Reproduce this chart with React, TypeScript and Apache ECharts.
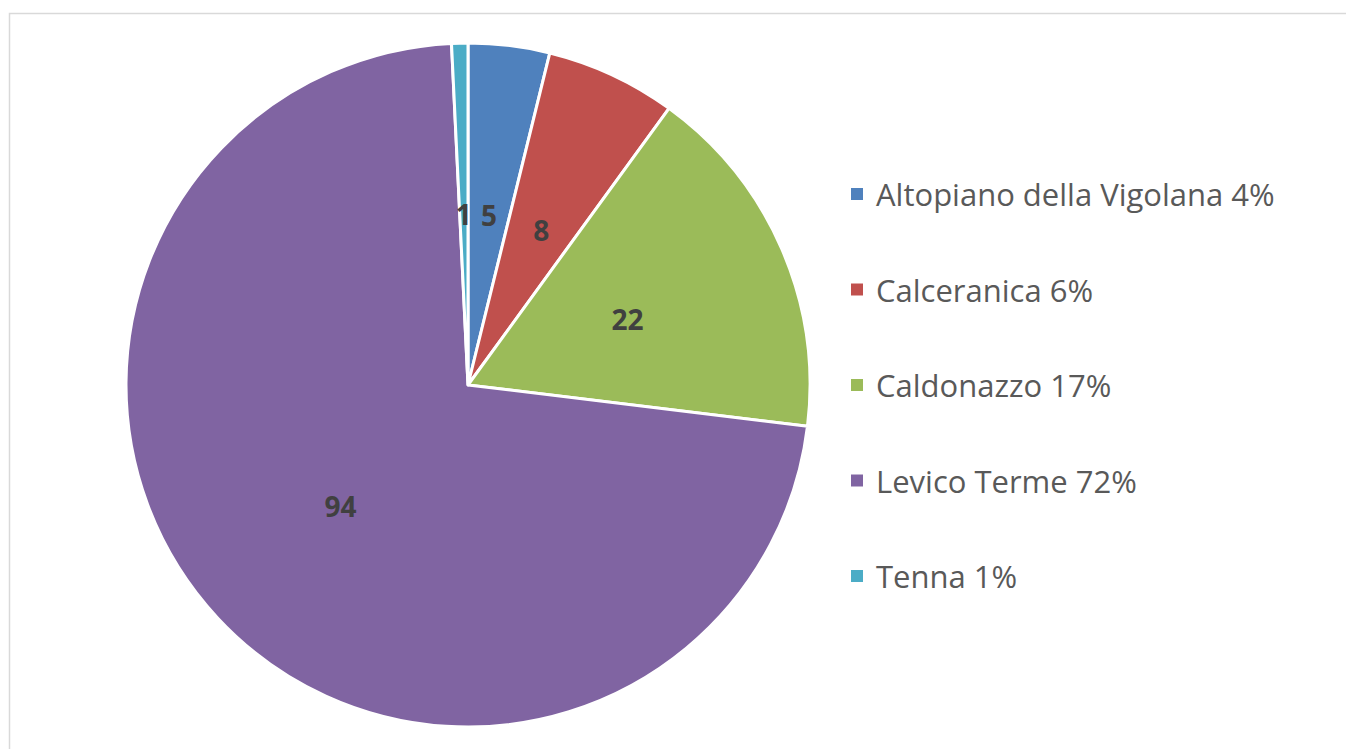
import React, { useEffect, useRef } from "react";
import * as echarts from "echarts";

const categories = ["Altopiano della Vigolana", "Calceranica", "Caldonazzo", "Levico Terme", "Tenna"];
const values = [5, 8, 22, 94, 1];
const colors = ["#4F81BD", "#C0504D", "#9BBB59", "#8064A2", "#4BACC6"];

export default function App() {
  const ref = useRef<HTMLDivElement>(null);
  useEffect(() => {
    if (!ref.current) return;
    const chart = echarts.init(ref.current, undefined, { renderer: "svg" });
    const total = values.reduce((a, b) => a + b, 0);
    const pct: Record<string, number> = {};
    categories.forEach((c, i) => (pct[c] = Math.round((values[i] / total) * 100)));
    chart.setOption({
      animation: false,
      backgroundColor: "#ffffff",
      color: colors,
      graphic: [
        {
          type: "rect",
          shape: { x: 9.5, y: 13.5, width: 1400, height: 800 },
          style: { fill: "none", stroke: "#d9d9d9", lineWidth: 1.5 },
          silent: true,
        },
      ],
      legend: {
        orient: "vertical",
        left: 849,
        top: 176,
        icon: "rect",
        itemWidth: 14,
        itemHeight: 14,
        itemGap: 59.5,
        padding: 0,
        formatter: (name: string) => `${name} ${pct[name]}%`,
        textStyle: {
          fontFamily: "Open Sans",
          fontSize: 31,
          lineHeight: 36,
          color: "#595959",
          padding: [0, 0, 0, 7],
        },
        data: categories,
      },
      series: [
        {
          type: "pie",
          center: [468, 385],
          radius: [0, 342],
          startAngle: 90,
          clockwise: true,
          avoidLabelOverlap: false,
          itemStyle: { borderColor: "#ffffff", borderWidth: 3 },
          label: {
            show: true,
            position: "inside",
            formatter: "{c}",
            fontFamily: "Open Sans",
            fontSize: 28,
            fontWeight: "bold",
            color: "#404040",
            offset: [0, 3],
          },
          labelLine: { show: false },
          emphasis: { disabled: true },
          data: categories.map((c, i) => ({ name: c, value: values[i] })),
        },
      ],
    });
    return () => chart.dispose();
  }, []);
  return (
    <div
      ref={ref}
      style={{ position: "fixed", left: 0, top: 0, width: 1346, height: 749 }}
    />
  );
}
